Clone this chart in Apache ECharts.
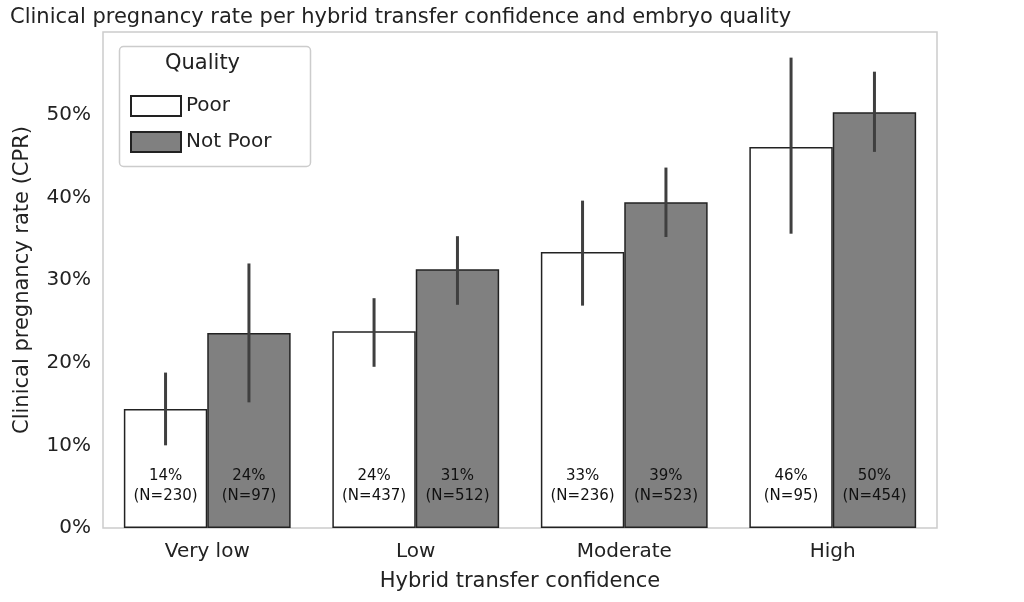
<!DOCTYPE html>
<html><head><meta charset="utf-8">
<script src="https://cdn.jsdelivr.net/npm/echarts@6/dist/echarts.min.js"></script>
<style>html,body{margin:0;padding:0;background:#fff}#c{width:1024px;height:602px}</style>
</head><body><div id="c"></div>
<script>
const categories = ['Very low','Low','Moderate','High'];
const poor = [14.4, 23.8, 33.4, 46.1];
const notPoor = [23.6, 31.3, 39.4, 50.3];
const poorN = [230, 437, 236, 95];
const notPoorN = [97, 512, 523, 454];
const poorLo = [10.0, 19.5, 26.9, 35.6];
const poorHi = [18.8, 27.8, 39.6, 56.9];
const npLo = [15.2, 27.0, 35.2, 45.5];
const npHi = [32.0, 35.3, 43.6, 55.2];
const yTicks = [0,10,20,30,40,50];

const font = 'DejaVu Sans';
function errSeries(lo, hi, side){
  return {type:'custom', silent:true, z:10,
    data: categories.map((c,i)=>[i, lo[i], hi[i]]),
    renderItem:(params, api)=>{
      const band = api.size([1,0])[0];
      const off = side*band*0.2;
      const a = api.coord([api.value(0), api.value(1)]);
      const b = api.coord([api.value(0), api.value(2)]);
      return {type:'line', shape:{x1:a[0]+off,y1:a[1],x2:b[0]+off,y2:b[1]}, style:{stroke:'#3f3f3f',lineWidth:3}};
    }};
}
function labelFmt(vals, ns){ return p => Math.round(vals[p.dataIndex])+'%\n(N='+ns[p.dataIndex]+')'; }
const chart = echarts.init(document.getElementById('c'));
chart.setOption({
  animation:false,
  title:{text:'Clinical pregnancy rate per hybrid transfer confidence and embryo quality', left:5, top:2,
    textStyle:{fontFamily:font, fontSize:21, fontWeight:'normal', color:'#222'}},
  grid:{left:103, right:87, top:32, bottom:74, show:true, borderColor:'#cccccc', borderWidth:1.5},
  legend:{orient:'vertical', left:125, top:90, itemWidth:50, itemHeight:20, itemGap:14,
    textStyle:{fontFamily:font, fontSize:20, color:'#222'},
    data:[{name:'Poor', icon:'rect'},{name:'Not Poor', icon:'rect'}]},
  graphic:[
    {type:'rect', left:117, top:44, shape:{width:191, height:120, r:4}, style:{fill:'none', stroke:'#cccccc', lineWidth:1.5}, z:100},
    {type:'text', left:165, top:53, style:{text:'Quality', fontFamily:font, fontSize:21, fill:'#222'}, z:100}
  ],
  xAxis:{type:'category', data:categories, name:'Hybrid transfer confidence', nameLocation:'middle', nameGap:43,
    nameTextStyle:{fontFamily:font, fontSize:21, color:'#222'},
    axisLine:{show:false}, axisTick:{show:false},
    axisLabel:{fontFamily:font, fontSize:20, color:'#222', margin:14}},
  yAxis:{type:'value', min:0, max:60, interval:10, name:'Clinical pregnancy rate (CPR)', nameLocation:'middle', nameGap:70,
    nameTextStyle:{fontFamily:font, fontSize:21, color:'#222'},
    splitLine:{show:false}, axisLine:{show:false}, axisTick:{show:false},
    axisLabel:{fontFamily:font, fontSize:20, color:'#222', margin:12,
      formatter:v=> yTicks.includes(v) ? v+'%' : ''}},
  series:[
    {name:'Poor', type:'bar', data:poor, barWidth:'40%', barGap:'0%',
      itemStyle:{color:'#ffffff', borderColor:'#222', borderWidth:1.5},
      label:{show:true, position:'insideBottom', distance:22, formatter:labelFmt(poor,poorN), fontFamily:font, fontSize:15, color:'#111', lineHeight:20}},
    {name:'Not Poor', type:'bar', data:notPoor, barWidth:'40%', barGap:'0%',
      itemStyle:{color:'#808080', borderColor:'#222', borderWidth:1.5},
      label:{show:true, position:'insideBottom', distance:22, formatter:labelFmt(notPoor,notPoorN), fontFamily:font, fontSize:15, color:'#111', lineHeight:20}},
    errSeries(poorLo, poorHi, -1),
    errSeries(npLo, npHi, 1)
  ]
});
</script></body></html>
